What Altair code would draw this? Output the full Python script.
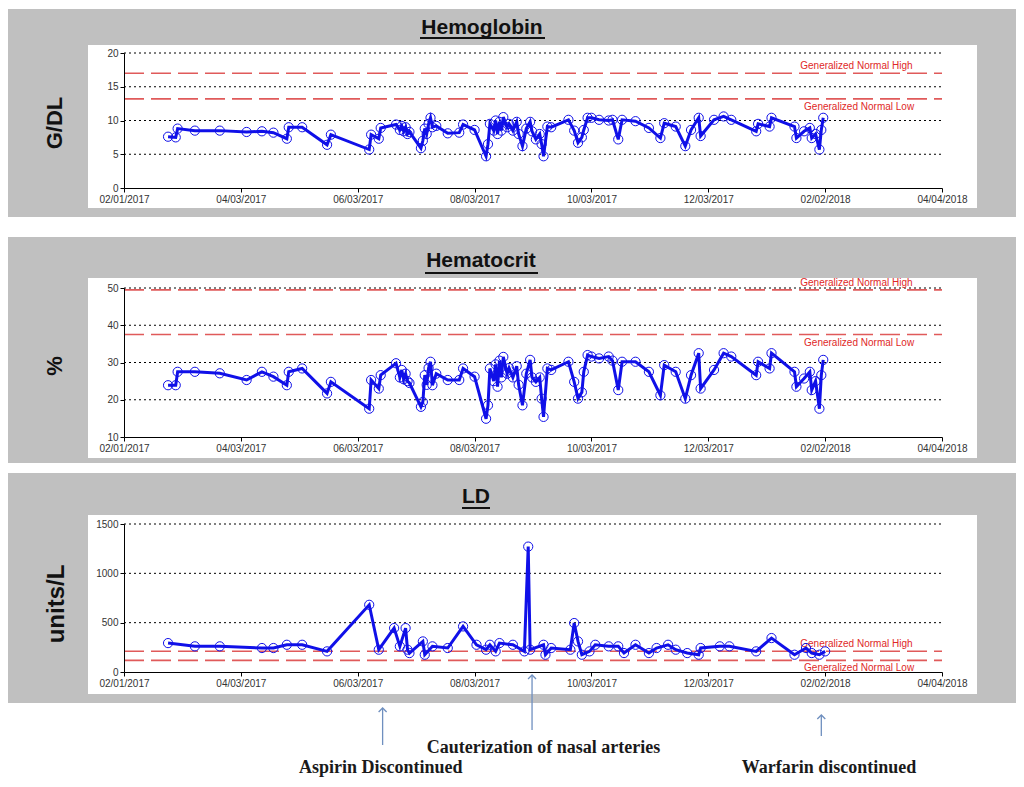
import altair as alt
import pandas as pd

# ---------------- data ----------------
hh_dates = [
    "2017-02-24", "2017-02-28", "2017-03-01", "2017-03-10", "2017-03-23", "2017-04-06", "2017-04-14",
    "2017-04-20", "2017-04-27", "2017-04-28", "2017-05-05", "2017-05-18", "2017-05-20", "2017-06-09",
    "2017-06-10", "2017-06-14", "2017-06-15", "2017-06-23", "2017-06-25", "2017-06-26", "2017-06-27",
    "2017-06-28", "2017-06-29", "2017-06-30", "2017-07-06", "2017-07-07", "2017-07-08", "2017-07-09",
    "2017-07-10", "2017-07-11", "2017-07-12", "2017-07-14", "2017-07-20", "2017-07-26", "2017-07-28",
    "2017-08-03", "2017-08-09", "2017-08-10", "2017-08-11", "2017-08-13", "2017-08-14", "2017-08-15",
    "2017-08-16", "2017-08-17", "2017-08-18", "2017-08-20", "2017-08-21", "2017-08-23", "2017-08-25",
    "2017-08-26", "2017-08-28", "2017-08-30", "2017-09-01", "2017-09-02", "2017-09-04", "2017-09-06",
    "2017-09-07", "2017-09-08", "2017-09-10", "2017-09-12", "2017-09-21", "2017-09-24", "2017-09-26",
    "2017-09-28", "2017-09-29", "2017-10-01", "2017-10-03", "2017-10-07", "2017-10-12", "2017-10-14",
    "2017-10-17", "2017-10-19", "2017-10-26", "2017-11-02", "2017-11-08", "2017-11-10", "2017-11-16",
    "2017-11-21", "2017-11-24", "2017-11-28", "2017-11-29", "2017-12-06", "2017-12-11", "2017-12-15",
    "2017-12-28", "2017-12-29", "2018-01-04", "2018-01-05", "2018-01-17", "2018-01-18", "2018-01-22",
    "2018-01-25", "2018-01-26", "2018-01-28", "2018-01-30", "2018-01-31", "2018-02-01",
]
hgb = [
    7.6, 7.5, 8.8, 8.5, 8.5, 8.3, 8.4, 8.2, 7.3, 9.0, 9.0, 6.4, 7.9, 5.7, 7.9, 7.3, 8.9, 9.4, 8.6, 9.2,
    8.4, 9.0, 8.0, 8.3, 5.9, 7.0, 8.8, 8.0, 9.5, 10.4, 9.0, 9.2, 8.1, 8.2, 9.4, 8.6, 4.7, 6.5, 9.5, 8.5,
    10.0, 8.0, 9.8, 8.5, 10.5, 9.0, 9.5, 8.5, 9.8, 8.0, 6.2, 8.8, 9.8, 8.4, 7.2, 8.0, 6.5, 4.7, 9.1, 9.0,
    10.1, 8.5, 6.7, 7.5, 8.6, 10.4, 10.4, 10.1, 10.0, 10.1, 7.2, 10.1, 9.9, 8.9, 7.4, 9.6, 9.1, 6.2, 8.6,
    10.4, 7.7, 10.1, 10.6, 10.1, 8.4, 9.5, 9.1, 10.4, 9.1, 7.4, 8.4, 8.9, 7.4, 8.0, 5.7, 8.6, 10.4,
]
hct = [
    23.9, 23.9, 27.5, 27.5, 27.1, 25.3, 27.5, 26.2, 23.9, 27.5, 28.4, 21.7, 24.8, 17.6, 25.3, 23.0, 26.6,
    29.8, 26.0, 28.0, 25.5, 27.0, 25.0, 24.5, 18.1, 19.4, 26.6, 24.0, 28.5, 30.2, 23.9, 27.0, 25.3, 25.3,
    28.4, 26.2, 14.9, 18.5, 28.4, 25.0, 29.5, 23.5, 30.5, 26.0, 31.5, 27.0, 28.5, 26.0, 29.0, 24.0, 18.5,
    27.0, 30.7, 26.0, 24.8, 26.0, 20.3, 15.4, 28.4, 28.0, 30.2, 24.8, 20.3, 22.0, 27.5, 32.0, 31.6, 31.1,
    31.6, 30.5, 22.6, 30.2, 30.2, 27.5, 21.2, 29.3, 27.5, 20.3, 26.6, 32.5, 23.0, 28.0, 32.5, 31.6, 26.6,
    30.2, 28.4, 32.5, 27.5, 23.5, 25.7, 27.5, 22.6, 25.0, 17.6, 26.6, 30.7,
]

ld_dates = [
    "2017-02-24", "2017-03-10", "2017-03-23", "2017-04-14", "2017-04-20", "2017-04-27", "2017-05-05",
    "2017-05-18", "2017-06-09", "2017-06-14", "2017-06-22", "2017-06-25", "2017-06-28", "2017-06-29",
    "2017-06-30", "2017-07-07", "2017-07-08", "2017-07-12", "2017-07-20", "2017-07-28", "2017-08-04",
    "2017-08-09", "2017-08-11", "2017-08-14", "2017-08-16", "2017-08-23", "2017-08-29", "2017-08-31",
    "2017-09-01", "2017-09-08", "2017-09-09", "2017-09-12", "2017-09-22", "2017-09-24", "2017-09-26",
    "2017-09-28", "2017-10-02", "2017-10-05", "2017-10-12", "2017-10-17", "2017-10-20", "2017-10-26",
    "2017-11-02", "2017-11-06", "2017-11-12", "2017-11-16", "2017-11-22", "2017-11-28", "2017-11-29",
    "2017-12-09", "2017-12-14", "2017-12-28", "2018-01-05", "2018-01-17", "2018-01-23", "2018-01-26",
    "2018-01-30", "2018-02-02",
]
ld = [
    293, 260, 260, 243, 243, 276, 276, 209, 681, 226, 445, 260, 445, 226, 192, 310, 175, 260, 243, 462,
    276, 226, 276, 209, 293, 276, 209, 1271, 226, 276, 175, 243, 226, 496, 310, 175, 209, 276, 260, 260,
    192, 276, 192, 243, 276, 226, 192, 175, 243, 260, 260, 209, 344, 175, 243, 192, 175, 209,
]

hgb_normal = [17.0, 13.2]      # generalized normal high, low
hct_normal = [49.5, 37.5]
ld_normal = [210, 118]
normal_labels = ["Generalized Normal High", "Generalized Normal Low"]
normal_label_dates = ["2018-01-20", "2018-01-22"]

hgb_ticks = [0, 5, 10, 15, 20]
hct_ticks = [10, 20, 30, 40, 50]
ld_ticks = [0, 500, 1000, 1500]
hgb_grid = [5, 10, 15, 20]
hct_grid = [20, 30, 40, 50]
ld_grid = [500, 1000, 1500]

x_tick_dates = ["2017-02-01", "2017-04-03", "2017-06-03", "2017-08-03",
                "2017-10-03", "2017-12-03", "2018-02-02", "2018-04-04"]
x_start, x_end = "2017-02-01", "2018-04-04"

panel_titles = ["Hemoglobin", "Hematocrit", "LD"]
y_titles = ["G/DL", "%", "units/L"]

events = ["Aspirin Discontinued", "Cauterization of nasal  arteries", "Warfarin discontinued"]
event_dates = ["2017-06-16", "2017-09-02", "2018-01-31"]
event_label_dates = ["2017-06-15", "2017-09-08", "2018-02-04"]

# ---------------- layout (pixels inside the canvas) ----------------
W, H = 1008, 771
X0, X1 = 116, 934
gray_y = [(1, 209), (229, 455), (465, 695)]
white_y = [(37, 200), (270, 450), (507, 686)]
white_x = (80, 969)
y_ranges = [(180, 45), (429, 280), (664, 516)]
title_pos = [(474, 26), (473, 259), (468, 495)]
underline_pos = [(412, 537, 30), (417, 530, 265), (454, 482, 500)]
ytitle_pos = [(47, 115, 22), (47, 358, 22), (49, 596, 24)]
arrow_y = [(700, 737), (667, 722), (707, 728)]
event_text_y = [765, 745, 765]

BLUE = "#1010E8"
RED_LINE = "#E05A5A"
RED_TEXT = "#E02828"
ARROW = "#6F8FBF"
FONT = "Liberation Sans"


def dt(s):
    y, m, d = (int(v) for v in s.split("-"))
    return alt.DateTime(year=y, month=m, date=d)


def xscale():
    return alt.Scale(domain=[dt(x_start), dt(x_end)], range=[X0, X1], nice=False)


layers = []

# gray panels and white plot cards
gray_df = pd.DataFrame({"x": [0] * 3, "x2": [W] * 3,
                        "y": [g[0] for g in gray_y], "y2": [g[1] for g in gray_y]})
layers.append(alt.Chart(gray_df).mark_rect(color="#C0C0C0").encode(
    x=alt.X("x:Q", scale=None, axis=None), x2="x2:Q",
    y=alt.Y("y:Q", scale=None, axis=None), y2="y2:Q"))
white_df = pd.DataFrame({"x": [white_x[0]] * 3, "x2": [white_x[1]] * 3,
                         "y": [g[0] for g in white_y], "y2": [g[1] for g in white_y]})
layers.append(alt.Chart(white_df).mark_rect(color="#FFFFFF").encode(
    x=alt.X("x:Q", scale=None, axis=None), x2="x2:Q",
    y=alt.Y("y:Q", scale=None, axis=None), y2="y2:Q"))

# panel titles with underline
t_df = pd.DataFrame({"t": panel_titles, "x": [p[0] for p in title_pos], "y": [p[1] for p in title_pos]})
layers.append(alt.Chart(t_df).mark_text(font=FONT, fontSize=21, fontWeight="bold", color="#111111",
                                        align="center", baseline="alphabetic").encode(
    x=alt.X("x:Q", scale=None, axis=None), y=alt.Y("y:Q", scale=None, axis=None), text="t:N"))
u_df = pd.DataFrame({"x": [u[0] for u in underline_pos], "x2": [u[1] for u in underline_pos],
                     "y": [u[2] for u in underline_pos]})
layers.append(alt.Chart(u_df).mark_rule(color="#111111", strokeWidth=2).encode(
    x=alt.X("x:Q", scale=None, axis=None), x2="x2:Q", y=alt.Y("y:Q", scale=None, axis=None)))

# y titles
for label, (tx, ty, fs) in zip(y_titles, ytitle_pos):
    yt_df = pd.DataFrame({"t": [label], "x": [tx], "y": [ty]})
    layers.append(alt.Chart(yt_df).mark_text(font=FONT, fontSize=fs, fontWeight="bold", color="#111111",
                                             angle=270, align="center", baseline="middle").encode(
        x=alt.X("x:Q", scale=None, axis=None), y=alt.Y("y:Q", scale=None, axis=None), text="t:N"))

panels = [
    dict(dates=hh_dates, vals=hgb, normal=hgb_normal, ticks=hgb_ticks, grid=hgb_grid, yr=y_ranges[0],
         domain=[0, 20]),
    dict(dates=hh_dates, vals=hct, normal=hct_normal, ticks=hct_ticks, grid=hct_grid, yr=y_ranges[1],
         domain=[10, 50]),
    dict(dates=ld_dates, vals=ld, normal=ld_normal, ticks=ld_ticks, grid=ld_grid, yr=y_ranges[2],
         domain=[0, 1500]),
]

for p in panels:
    ysc = alt.Scale(domain=p["domain"], range=list(p["yr"]), nice=False, zero=False)
    # dotted grid
    g_df = pd.DataFrame({"v": p["grid"], "s": x_start, "e": x_end})
    layers.append(alt.Chart(g_df).mark_rule(color="#000000", strokeDash=[2, 3], strokeWidth=1).encode(
        x=alt.X("s:T", scale=xscale(), axis=None), x2="e:T",
        y=alt.Y("v:Q", scale=ysc, axis=None)))
    # normal range lines
    n_df = pd.DataFrame({"v": p["normal"], "s": x_start, "e": x_end})
    layers.append(alt.Chart(n_df).mark_rule(color=RED_LINE, strokeDash=[20, 7], strokeWidth=1.6).encode(
        x=alt.X("s:T", scale=xscale(), axis=None), x2="e:T",
        y=alt.Y("v:Q", scale=ysc, axis=None)))
    for i, dy in enumerate([-4, 11]):
        nl_df = pd.DataFrame({"v": [p["normal"][i]], "d": [normal_label_dates[i]], "t": [normal_labels[i]]})
        layers.append(alt.Chart(nl_df).mark_text(font=FONT, fontSize=10, color=RED_TEXT, align="left",
                                                 baseline="alphabetic", dy=dy).encode(
            x=alt.X("d:T", scale=xscale(), axis=None),
            y=alt.Y("v:Q", scale=ysc, axis=None), text="t:N"))
    s_df = pd.DataFrame({"date": p["dates"], "v": p["vals"]})
    xaxis = alt.Axis(orient="bottom", offset=p["yr"][0] - H, values=[dt(s) for s in x_tick_dates],
                     format="%m/%d/%Y", labelFlush=False, labelOverlap=False, grid=False, title=None,
                     tickSize=4, tickColor="#000000", domainColor="#000000", domainWidth=1,
                     labelFont=FONT, labelFontSize=10, labelColor="#333333", labelPadding=2, zindex=1)
    yaxis = alt.Axis(orient="left", offset=-X0, values=p["ticks"], format="d", labelFlush=False,
                     labelOverlap=False, grid=False, title=None, tickSize=4, tickColor="#000000",
                     domainColor="#000000", domainWidth=1, labelFont=FONT, labelFontSize=10,
                     labelColor="#333333", labelPadding=2, zindex=1)
    layers.append(alt.Chart(s_df).mark_line(color=BLUE, strokeWidth=3).encode(
        x=alt.X("date:T", scale=xscale(), axis=xaxis),
        y=alt.Y("v:Q", scale=ysc, axis=yaxis)))
    layers.append(alt.Chart(s_df).mark_point(shape="circle", filled=False, size=85, color=BLUE,
                                             strokeWidth=1, opacity=1).encode(
        x=alt.X("date:T", scale=xscale(), axis=None),
        y=alt.Y("v:Q", scale=ysc, axis=None)))

# event annotations below the panels
a_df = pd.DataFrame({"d": event_dates, "ld": event_label_dates, "t": events,
                     "yt": [a[0] for a in arrow_y], "yb": [a[1] for a in arrow_y], "ty": event_text_y})
layers.append(alt.Chart(a_df).mark_rule(color=ARROW, strokeWidth=1.3).encode(
    x=alt.X("d:T", scale=xscale(), axis=None),
    y=alt.Y("yt:Q", scale=None, axis=None), y2="yb:Q"))
layers.append(alt.Chart(a_df).mark_point(shape="M-1,1L0,0L1,1", filled=False, size=64, color=ARROW,
                                         strokeWidth=1.3, opacity=1).encode(
    x=alt.X("d:T", scale=xscale(), axis=None),
    y=alt.Y("yt:Q", scale=None, axis=None)))
layers.append(alt.Chart(a_df).mark_text(font="Liberation Serif", fontSize=18, fontWeight="bold",
                                        color="#1A1A1A", align="center", baseline="alphabetic").encode(
    x=alt.X("ld:T", scale=xscale(), axis=None),
    y=alt.Y("ty:Q", scale=None, axis=None), text="t:N"))

chart = alt.layer(*layers).resolve_scale(x="independent", y="independent").properties(
    width=W, height=H, padding=0, background="#FFFFFF",
    autosize=alt.AutoSizeParams(type="none"),
).configure_view(strokeWidth=0)

chart.save("out.html", embed_options={"renderer": "svg", "actions": False})
